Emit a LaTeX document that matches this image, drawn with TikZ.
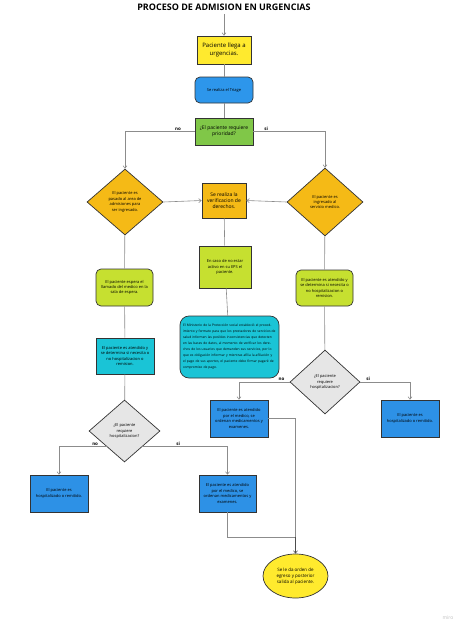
\documentclass[tikz,border=0pt]{standalone}
\usepackage{fontspec}
\setmainfont{Open Sans}
\usepackage{tikz}
\usetikzlibrary{arrows.meta,shapes,positioning}
\definecolor{urgyellow}{RGB}{255,234,46}
\definecolor{urgblue}{RGB}{45,150,235}
\definecolor{urggreen}{RGB}{128,199,72}
\definecolor{urgorange}{RGB}{245,186,22}
\definecolor{urglime}{RGB}{198,224,48}
\definecolor{urgteal}{RGB}{26,196,214}
\definecolor{urgbox}{RGB}{45,145,230}
\definecolor{urggrey}{RGB}{230,230,230}

\begin{document}
\begin{tikzpicture}[
    x=1pt, y=-1pt,
    box/.style={draw=black!80, fill=#1, align=center, inner sep=1pt, line width=0.7pt},
    rbox/.style={box=#1, rounded corners=5pt},
    decision/.style={draw=black!80, fill=#1, diamond, align=center, inner sep=0pt, line width=0.7pt},
    txt/.style={font=\fontsize{4}{5.4}\selectfont},
    link/.style={draw=black!45, line width=0.6pt},
    arrow/.style={link, -{Straight Barb[length=2.5pt,width=4pt]}},
    tag/.style={font=\bfseries\fontsize{4.5}{5}\selectfont, above, inner sep=1pt}
]
\useasboundingbox (0,0) rectangle (474,632);

% Title and entry
\node[font=\bfseries\fontsize{9}{10}\selectfont] (titulo) at (224,7) {PROCESO DE ADMISION EN URGENCIAS};
\node[box=urgyellow, minimum width=54pt, minimum height=28pt, font=\fontsize{6}{7.5}\selectfont] (llegada) at (224,50) {Paciente llega a\\urgencias.};
\node[rbox=urgblue, minimum width=58pt, minimum height=26pt, txt] (triage) at (224,90) {Se realiza el Triage};
\node[box=urggreen, minimum width=58pt, minimum height=27pt, font=\fontsize{5}{6.2}\selectfont] (prioridad) at (224,131.5) {¿El paciente requiere\\prioridad?};

% Admission tier
\node[decision=urgorange, minimum width=76pt, minimum height=66pt, txt] (admision) at (125,202) {El paciente es\\pasado al area de\\admisiones para\\ser ingresado.};
\node[box=urgorange, minimum width=44pt, minimum height=35pt, font=\fontsize{5}{6.2}\selectfont] (verificacion) at (224,200.5) {Se realiza la\\verificacion de\\derechos.};
\node[decision=urgorange, minimum width=76pt, minimum height=68pt, txt] (ingreso) at (325,202) {El paciente es\\ingresado al\\servicio medico.};

% Rights check
\node[box=urglime, minimum width=52pt, minimum height=42pt, txt] (eps) at (225,267) {En caso de no estar\\activo en su EPS el\\paciente.};
\node[rbox=urgteal, rounded corners=9pt, minimum width=99pt, minimum height=62pt, text width=93pt, align=left, font=\fontsize{3.3}{6}\selectfont] (ministerio) at (229.5,347) {El Ministerio de la Protección social estableció el procedimiento y formato para que los prestadores de servicios de salud informen las posibles inconsistencias que detecten en las bases de datos, al momento de verificar los derechos de los usuarios que demanden sus servicios, por lo que es obligación informar y mientras afilia la afiliación y el pago de sus aportes, el paciente debe firmar pagaré de compromiso de pago.};

% Left branch
\node[rbox=urglime, minimum width=57pt, minimum height=37pt, txt] (espera) at (124.5,287.5) {El paciente espera el\\llamado del medico en la\\sala de espera.};
\node[box=urgteal, minimum width=58pt, minimum height=36pt, txt] (atendidoA) at (125,356) {El paciente es atendido y\\se determina si necesita o\\no hospitalizacion o\\remision.};
\node[decision=urggrey, minimum width=71pt, minimum height=62pt, txt] (hospitalizarA) at (124.5,431) {¿El paciente\\requiere\\hospitalizacion?};
\node[box=urgbox, minimum width=58pt, minimum height=37pt, txt] (remitidoA) at (59,493.5) {El paciente es\\hospitalizado o remitido.};
\node[box=urgbox, minimum width=57pt, minimum height=37pt, txt] (medicoA) at (227.5,493.5) {El paciente es atendido\\por el medico, se\\ordenan medicamentos y\\examenes.};

% Right branch
\node[rbox=urglime, minimum width=57pt, minimum height=36pt, txt] (atendidoB) at (324.5,288) {El paciente es atendido y\\se determina si necesita o\\no hospitalizacion o\\remision.};
\node[decision=urggrey, minimum width=70pt, minimum height=64pt, txt] (hospitalizarB) at (325,382) {¿El paciente\\requiere\\hospitalizacion?};
\node[box=urgbox, minimum width=58pt, minimum height=37pt, txt] (medicoB) at (239,418.5) {El paciente es atendido\\por el medico, se\\ordenan medicamentos y\\examenes.};
\node[box=urgbox, minimum width=58pt, minimum height=37pt, txt] (remitidoB) at (410,418.5) {El paciente es\\hospitalizado o remitido.};

% Exit
\node[draw=black!80, fill=urgyellow, ellipse, line width=0.7pt, minimum width=65pt, minimum height=44pt, inner sep=0pt, align=center, font=\fontsize{4.5}{6}\selectfont] (egreso) at (295.5,576) {Se le da orden de\\egreso y posterior\\salida al paciente.};
\coordinate (juntar) at (295.5,537);
\node[text=black!25, font=\fontsize{5}{6}\selectfont] (miro) at (448,618) {miro};

% Arrows
\draw[arrow] (titulo) -- (llegada);
\draw[link] (llegada) -- (triage);
\draw[link] (triage) -- (prioridad);
\draw[arrow] (prioridad.west) -| node[tag, pos=0.12] {no} (admision.north);
\draw[arrow] (prioridad.east) -| node[tag, pos=0.09] {si} (ingreso.north);
\draw[arrow] (admision.east) -- (verificacion.west);
\draw[arrow] (ingreso.west) -- (verificacion.east);
\draw[link] (verificacion) -- (eps);
\draw[link] (eps) -- (ministerio);
\draw[link] (admision) -- (espera);
\draw[link] (espera) -- (atendidoA);
\draw[link] (atendidoA) -- (hospitalizarA);
\draw[arrow] (hospitalizarA.south west) -| node[tag, pos=0.12] {no} (remitidoA.north);
\draw[arrow] (hospitalizarA.south east) -| node[tag, pos=0.21] {si} (medicoA.north);
\draw[link] (ingreso) -- (atendidoB);
\draw[link] (atendidoB) -- (hospitalizarB);
\draw[arrow] (hospitalizarB.west) -| node[tag, pos=0.08] {no} (medicoB.north);
\draw[arrow] (hospitalizarB.east) -| node[tag, pos=0.08] {si} (remitidoB.north);
\draw[link] (medicoA.south) |- (juntar);
\draw[link] (medicoB.east) -| (juntar);
\draw[link, draw=black!70, -{Straight Barb[length=2.5pt,width=4pt]}] (juntar) -- (egreso.north);
\end{tikzpicture}
\end{document}
